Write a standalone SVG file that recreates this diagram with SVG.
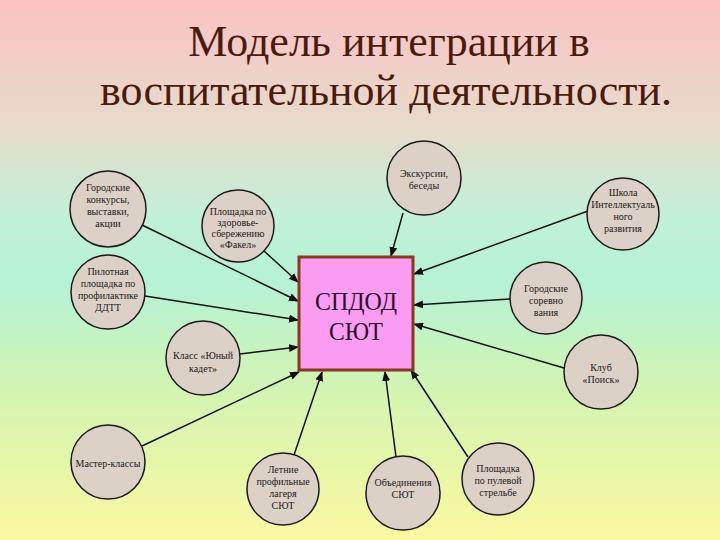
<svg xmlns="http://www.w3.org/2000/svg" width="720" height="540" viewBox="0 0 720 540">
<defs>
<linearGradient id="bg" x1="0" y1="0" x2="0" y2="1">
<stop offset="0" stop-color="#fbc2c4"/>
<stop offset="0.24" stop-color="#e6dccb"/>
<stop offset="0.40" stop-color="#c2f0d6"/>
<stop offset="0.52" stop-color="#b4f2d6"/>
<stop offset="0.72" stop-color="#d2f4b2"/>
<stop offset="1" stop-color="#fbf9a0"/>
</linearGradient>
<marker id="arr" markerUnits="userSpaceOnUse" markerWidth="10" markerHeight="8" refX="9" refY="4" orient="auto">
<path d="M0,0 L10,4 L0,8 Z" fill="#111"/>
</marker>
<style>
.node circle{fill:#dcd1c6;stroke:#1a1a1a;stroke-width:1.5}
.node text{font-family:"Liberation Serif","DejaVu Serif",serif;font-size:10px;fill:#1a1a1a;text-anchor:middle;dominant-baseline:central}
#connectors line{stroke:#111;stroke-width:1.5;marker-end:url(#arr)}
.title{font-family:"Liberation Serif","DejaVu Serif",serif;font-size:44px;fill:#4a1c0c;text-anchor:middle}
.ctr{font-family:"Liberation Serif","DejaVu Serif",serif;font-size:26px;fill:#2a0a2a;text-anchor:middle}
</style>
</defs>
<rect x="0" y="0" width="720" height="540" fill="url(#bg)"/>
<g id="title">
<text class="title" x="389" y="56">Модель интеграции в</text>
<text class="title" x="386" y="105">воспитательной деятельности.</text>
</g>
<g id="connectors">
<line x1="142" y1="225" x2="298" y2="301"/>
<line x1="264" y1="251" x2="298" y2="282"/>
<line x1="403" y1="213" x2="391" y2="256"/>
<line x1="588" y1="211" x2="414" y2="274"/>
<line x1="145" y1="296" x2="298" y2="320"/>
<line x1="510" y1="299" x2="414" y2="305"/>
<line x1="240" y1="354" x2="298" y2="347"/>
<line x1="564" y1="368" x2="414" y2="324"/>
<line x1="142" y1="446" x2="299" y2="372"/>
<line x1="294" y1="455" x2="322" y2="372"/>
<line x1="396" y1="457" x2="385" y2="372"/>
<line x1="468" y1="457" x2="411" y2="370"/>
</g>
<g id="center">
<rect x="299" y="257" width="114" height="113" fill="#fa9cf2" stroke="#8a3a1c" stroke-width="3"/>
<text class="ctr" x="356" y="310" textLength="82" lengthAdjust="spacingAndGlyphs">СПДОД</text>
<text class="ctr" x="356" y="340" textLength="54" lengthAdjust="spacingAndGlyphs">СЮТ</text>
</g>
<g id="n1" class="node"><circle cx="108" cy="209" r="38"/>
<text x="108" y="187">Городские</text><text x="108" y="199">конкурсы,</text><text x="108" y="211">выставки,</text><text x="108" y="223">акции</text></g>
<g id="n2" class="node"><circle cx="238" cy="226" r="36"/>
<text x="238" y="211">Площадка по</text><text x="238" y="222">здоровье-</text><text x="238" y="233">сбережению</text><text x="238" y="244">«Факел»</text></g>
<g id="n3" class="node"><circle cx="424" cy="178" r="37"/>
<text x="424" y="173">Экскурсии,</text><text x="424" y="185">беседы</text></g>
<g id="n4" class="node"><circle cx="623" cy="214" r="36"/>
<text x="623" y="192">Школа</text><text x="623" y="204">Интеллектуаль</text><text x="623" y="216">ного</text><text x="623" y="228">развития</text></g>
<g id="n5" class="node"><circle cx="108" cy="292" r="37"/>
<text x="108" y="271">Пилотная</text><text x="108" y="283">площадка по</text><text x="108" y="295">профилактике</text><text x="108" y="307">ДДТТ</text></g>
<g id="n6" class="node"><circle cx="546" cy="298" r="36"/>
<text x="546" y="288">Городские</text><text x="546" y="300">соревно</text><text x="546" y="312">вания</text></g>
<g id="n7" class="node"><circle cx="203" cy="358" r="37"/>
<text x="203" y="355">Класс «Юный</text><text x="203" y="368">кадет»</text></g>
<g id="n8" class="node"><circle cx="601" cy="372" r="37"/>
<text x="601" y="367">Клуб</text><text x="601" y="379">«Поиск»</text></g>
<g id="n9" class="node"><circle cx="108" cy="462" r="37"/>
<text x="108" y="463">Мастер-классы</text></g>
<g id="n10" class="node"><circle cx="283" cy="489" r="36"/>
<text x="283" y="469">Летние</text><text x="283" y="481">профильные</text><text x="283" y="493">лагеря</text><text x="283" y="505">СЮТ</text></g>
<g id="n11" class="node"><circle cx="403" cy="493" r="37"/>
<text x="403" y="482">Объединения</text><text x="403" y="494">СЮТ</text></g>
<g id="n12" class="node"><circle cx="498" cy="479" r="36"/>
<text x="498" y="468">Площадка</text><text x="498" y="480">по пулевой</text><text x="498" y="492">стрельбе</text></g>
</svg>
